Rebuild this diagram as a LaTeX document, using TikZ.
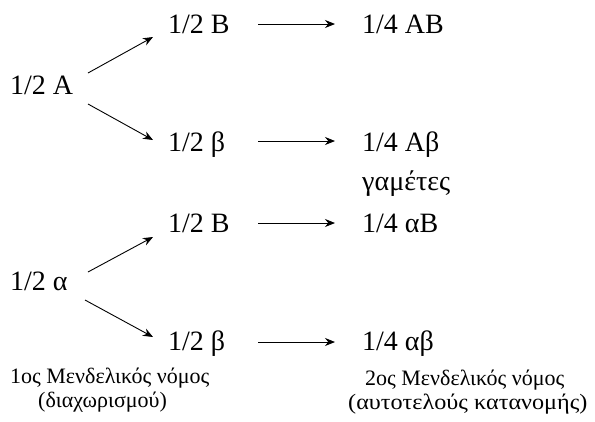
\documentclass[tikz,border=0pt]{standalone}
\usepackage{fontspec}
\setmainfont{Liberation Serif}
\usetikzlibrary{arrows.meta}
\begin{document}
\begin{tikzpicture}[x=1pt,y=-1pt,
  lbl/.style={anchor=base west,inner sep=0pt,font=\fontsize{28}{32}\selectfont},
  note/.style={anchor=base west,inner sep=0pt,font=\fontsize{22}{26}\selectfont},
  arr/.style={line width=0.9pt,-{Stealth[length=10pt,width=8pt]}}]
\useasboundingbox (0,0) rectangle (595,421);
% first gene: A
\node[lbl] (A)   at (10,94)  {1/2 A};
\node[lbl] (AB1) at (168,33) {1/2 B};
\node[lbl] (Ab1) at (168,151) {1/2 β};
\node[lbl] (AB)  at (362,33) {1/4 AB};
\node[lbl] (Ab)  at (362,151) {1/4 Aβ};
\node[lbl] (gam) at (362,190) {γαμέτες};
% first gene: alpha
\node[lbl] (a)   at (10,290) {1/2 α};
\node[lbl] (aB1) at (168,232) {1/2 B};
\node[lbl] (ab1) at (168,350) {1/2 β};
\node[lbl] (aB)  at (362,232) {1/4 αB};
\node[lbl] (ab)  at (362,350) {1/4 αβ};
% laws
\node[note] (law1)  at (10,383)  {1ος Μενδελικός νόμος};
\node[note] (law1b) at (38,407)  {(διαχωρισμού)};
\node[note] (law2)  at (365,385) {2ος Μενδελικός νόμος};
\node[note] (law2b) at (348,409) {\scalebox{1.1}[1]{(αυτοτελούς κατανομής)}};
% branching arrows
\draw[arr] ([shift={(78,-21)}]A.base west) -- ([shift={(-15,4)}]AB1.base west);
\draw[arr] ([shift={(78,10)}]A.base west)  -- ([shift={(-15,-11)}]Ab1.base west);
\draw[arr] ([shift={(78,-18)}]a.base west) -- ([shift={(-15,5)}]aB1.base west);
\draw[arr] ([shift={(75,10)}]a.base west)  -- ([shift={(-15,-13)}]ab1.base west);
% combination arrows
\draw[arr] ([shift={(90,-9)}]AB1.base west) -- ([shift={(-27,-9)}]AB.base west);
\draw[arr] ([shift={(90,-10)}]Ab1.base west) -- ([shift={(-27,-10)}]Ab.base west);
\draw[arr] ([shift={(90,-9)}]aB1.base west) -- ([shift={(-27,-9)}]aB.base west);
\draw[arr] ([shift={(90,-8)}]ab1.base west) -- ([shift={(-27,-8)}]ab.base west);
\end{tikzpicture}
\end{document}
